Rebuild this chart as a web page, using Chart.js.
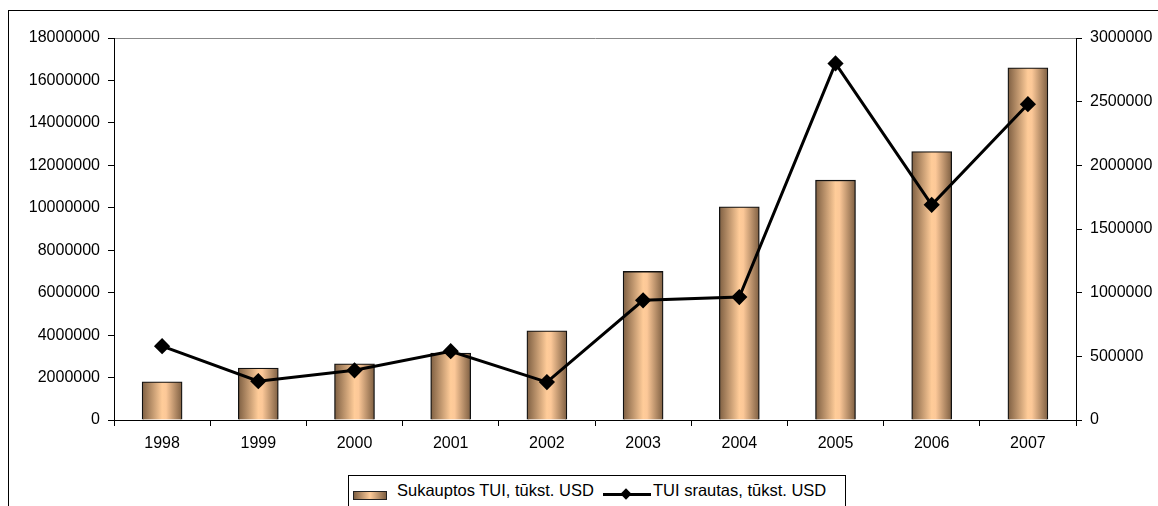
<!DOCTYPE html>
<html>
<head>
<meta charset="utf-8">
<script src="https://cdn.jsdelivr.net/npm/chart.js@4/dist/chart.umd.min.js"></script>
<style>
  body { margin: 0; background: #fff; font-family: "Liberation Sans", Arial, sans-serif; }
  #wrap { position: relative; width: 1158px; height: 506px; overflow: hidden; }
  #frame { position: absolute; left: 8px; top: 10px; width: 1300px; height: 600px; border-left: 1px solid #000; border-top: 1px solid #000; }
  #chartBox { position: absolute; left: 0; top: 0; width: 1158px; height: 506px; }
  #legend { position: absolute; left: 348px; top: 475px; width: 496px; height: 40px; border: 1px solid #000; background: #fff;
            font-size: 16.5px; color: #000; }
  .item { position: absolute; top: 5px; white-space: nowrap; }
  .barIcon { position: absolute; left: 4px; top: 15px; width: 32px; height: 7px; border: 1px solid #222;
             background: linear-gradient(to right, #7e5f42, #ffcc99 50%, #7e5f42); }
  .lineIcon { position: absolute; left: 254px; top: 17px; width: 48px; height: 3px; background: #000; }
  .diamond { position: absolute; left: 273px; top: 14px; width: 8px; height: 8px; background: #000; transform: rotate(45deg); }
</style>
</head>
<body>
<div id="wrap">
  <div id="frame"></div>
  <div id="chartBox"><canvas id="chart"></canvas></div>
  <div id="legend">
    <div class="barIcon"></div>
    <div class="item" style="left:48px">Sukauptos TUI, tūkst. USD</div>
    <div class="lineIcon"></div>
    <div class="diamond"></div>
    <div class="item" style="left:304px">TUI srautas, tūkst. USD</div>
  </div>
</div>
<script>
  const years = ["1998", "1999", "2000", "2001", "2002", "2003", "2004", "2005", "2006", "2007"];
  const sukauptos = [1800000, 2450000, 2650000, 3150000, 4200000, 7000000, 10050000, 11300000, 12650000, 16600000];
  const srautas = [580000, 305000, 390000, 540000, 298000, 940000, 965000, 2800000, 1690000, 2480000];

  const tickFont = { family: "'Liberation Sans', Arial, sans-serif", size: 16 };

  // horizontal gradient for each bar
  function barFill(ctx) {
    const chart = ctx.chart;
    const x = chart.scales.x;
    if (!x || ctx.dataIndex === undefined) return "#e0b080";
    const cx = x.getPixelForValue(ctx.dataIndex);
    if (!isFinite(cx)) return "#e0b080";
    const g = chart.ctx.createLinearGradient(cx - 20, 0, cx + 20, 0);
    g.addColorStop(0, "#7e5f42");
    g.addColorStop(0.5, "#ffcc99");
    g.addColorStop(0.6, "#fcc898");
    g.addColorStop(1, "#7e5f42");
    return g;
  }

  const plain = (v) => String(v);

  new Chart(document.getElementById("chart"), {
    data: {
      labels: years,
      datasets: [
        {
          type: "line",
          label: "TUI srautas, tūkst. USD",
          data: srautas,
          yAxisID: "y1",
          borderColor: "#000",
          borderWidth: 3,
          pointStyle: "rectRot",
          pointRadius: 6,
          pointBackgroundColor: "#000",
          pointBorderColor: "#000",
          tension: 0,
          order: 0,
        },
        {
          type: "bar",
          label: "Sukauptos TUI, tūkst. USD",
          data: sukauptos,
          yAxisID: "y",
          backgroundColor: barFill,
          borderColor: "#111",
          borderWidth: 1.3,
          barThickness: 40,
          order: 1,
        },
      ],
    },
    options: {
      responsive: true,
      maintainAspectRatio: false,
      animation: false,
      layout: { padding: { top: 38, left: 0, right: 0, bottom: 0 } },
      plugins: { legend: { display: false }, tooltip: { enabled: false } },
      scales: {
        x: {
          offset: true,
          grid: { offset: true, drawOnChartArea: false, color: "#000", tickLength: 6 },
          border: { color: "#000", width: 1 },
          ticks: { color: "#000", font: tickFont, padding: 8, maxRotation: 0 },
          afterFit: (s) => { s.height = 86; },
        },
        y: {
          position: "left",
          min: 0,
          max: 18000000,
          ticks: { stepSize: 2000000, color: "#000", font: tickFont, padding: 8, callback: plain },
          grid: {
            color: (c) => (c.tick && c.tick.value === 18000000 ? "#888" : "rgba(0,0,0,0)"),
            tickColor: "#000",
            tickLength: 6,
          },
          border: { color: "#000", width: 1 },
          afterFit: (s) => { s.width = 114; },
        },
        y1: {
          position: "right",
          min: 0,
          max: 3000000,
          ticks: { stepSize: 500000, color: "#000", font: tickFont, padding: 8, callback: plain },
          grid: { drawOnChartArea: false, color: "#000", tickLength: 6 },
          border: { color: "#000", width: 1 },
          afterFit: (s) => { s.width = 82; },
        },
      },
    },
  });
</script>
</body>
</html>
